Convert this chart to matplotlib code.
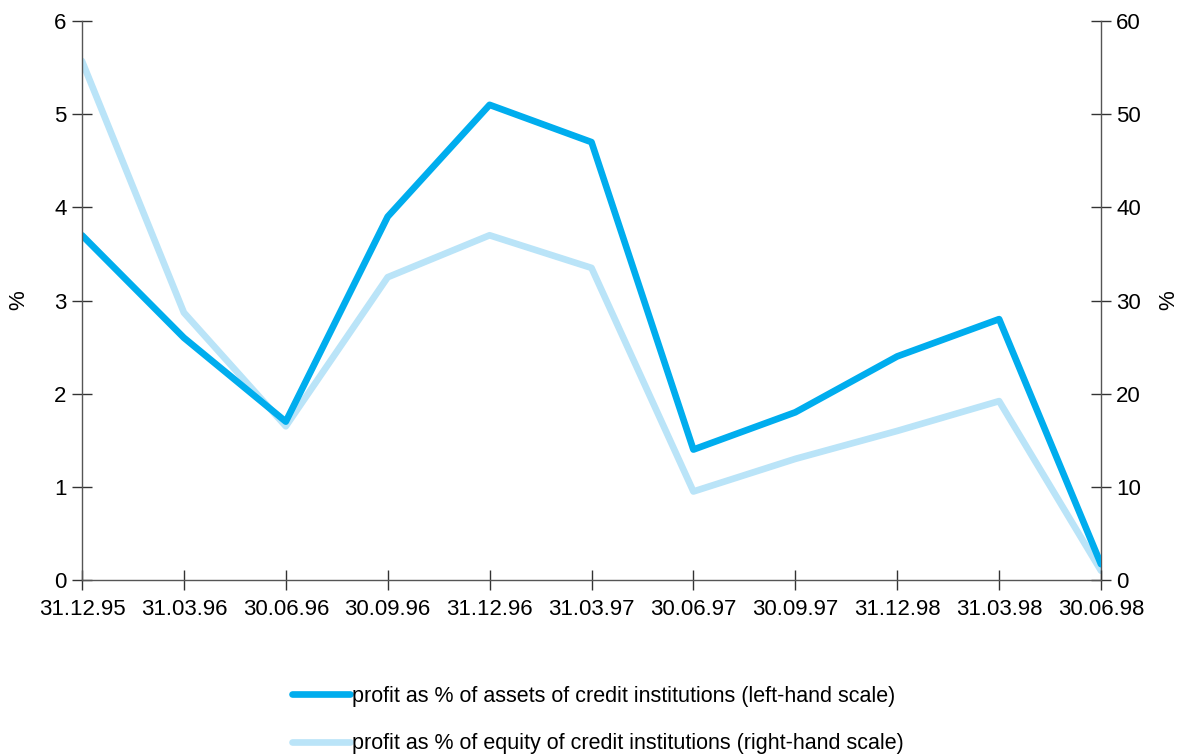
import matplotlib
matplotlib.use("Agg")
import matplotlib.pyplot as plt

dates = ["31.12.95", "31.03.96", "30.06.96", "30.09.96", "31.12.96", "31.03.97",
         "30.06.97", "30.09.97", "31.12.98", "31.03.98", "30.06.98"]
assets_pct = [3.7, 2.6, 1.7, 3.9, 5.1, 4.7, 1.4, 1.8, 2.4, 2.8, 0.17]
equity_pct = [55.7, 28.7, 16.5, 32.5, 37.0, 33.5, 9.5, 13.0, 16.0, 19.2, 1.0]

label_assets = "profit as % of assets of credit institutions (left-hand scale)"
label_equity = "profit as % of equity of credit institutions (right-hand scale)"

dark = "#00ADEE"
light = "#BAE4F8"

plt.rcParams['font.family'] = ['Liberation Sans', 'DejaVu Sans']
fs = 16

fig = plt.figure(figsize=(11.87, 7.55), dpi=100)
ax = fig.add_axes([82/1187, 1 - 580/755, (1101-82)/1187, (580-21)/755])
ax2 = ax.twinx()

x = list(range(len(dates)))
ax2.plot(x, equity_pct, color=light, lw=4.8, solid_capstyle='round', zorder=1)
ax.plot(x, assets_pct, color=dark, lw=4.8, solid_capstyle='round', zorder=2)
ax.set_zorder(ax2.get_zorder() + 1)
ax.patch.set_visible(False)

ax.set_xlim(0, len(dates) - 1)
ax.set_ylim(0, 6)
ax2.set_ylim(0, 60)
ax.set_xticks(x)
ax.set_xticklabels(dates)
ax.set_yticks(range(0, 7))
ax2.set_yticks(range(0, 61, 10))

for a in (ax, ax2):
    for s in a.spines.values():
        s.set_visible(False)
ax.spines['left'].set_visible(True)
ax.spines['bottom'].set_visible(True)
ax2.spines['right'].set_visible(True)
for s in (ax.spines['left'], ax.spines['bottom'], ax2.spines['right']):
    s.set_color("#555555")
    s.set_linewidth(1.0)

ax.tick_params(axis='both', direction='inout', length=14, width=1.0, color="#333333", labelsize=fs)
ax.tick_params(axis='x', pad=7)
ax.tick_params(axis='y', pad=4)
ax2.tick_params(axis='y', direction='inout', length=14, width=1.0, color="#333333", labelsize=fs, pad=4)

ax.set_ylabel("%", fontsize=fs, labelpad=18)
ax2.set_ylabel("%", fontsize=fs, labelpad=12)

h1, = ax.plot([], [], color=dark, lw=4.8, solid_capstyle='round')
h2, = ax.plot([], [], color=light, lw=4.8, solid_capstyle='round')
fig.legend([h1, h2], [label_assets, label_equity], loc='center',
           bbox_to_anchor=(598/1187, 1 - 720/755), frameon=False,
           handlelength=2.7, handletextpad=0.1, labelspacing=1.25, fontsize=15.5)

fig.savefig("out.png", dpi=100)
